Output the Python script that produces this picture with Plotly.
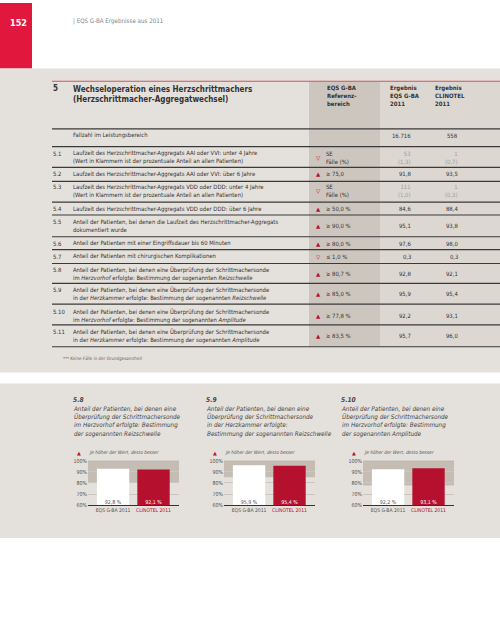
import plotly.graph_objects as go

W, H = 500, 636
FONT = "Liberation Sans Narrow, DejaVu Sans Condensed, Arial Narrow, sans-serif"
SYM = "DejaVu Sans"

# ---------------- data ----------------
page_number = "152"
header_text = "| EQS G-BA Ergebnisse aus 2011"
section_id = "5"
section_title = ["Wechseloperation eines Herzschrittmachers", "(Herzschrittmacher-Aggregatwechsel)"]
col_headers = [["EQS G-BA", "Referenz-", "bereich"],
               ["Ergebnis", "EQS G-BA", "2011"],
               ["Ergebnis", "CLINOTEL", "2011"]]
case_label = "Fallzahl im Leistungsbereich"
case_eqs = 16716
case_clinotel = 558

row_ids = ["5.1", "5.2", "5.3", "5.4", "5.5", "5.6", "5.7", "5.8", "5.9", "5.10", "5.11"]
row_texts = [
    "Laufzeit des Herzschrittmacher-Aggregats AAI oder VVI: unter 4 Jahre<br>(Wert in Klammern ist der prozentuale Anteil an allen Patienten)",
    "Laufzeit des Herzschrittmacher-Aggregats AAI oder VVI: über 6 Jahre",
    "Laufzeit des Herzschrittmacher-Aggregats VDD oder DDD: unter 4 Jahre<br>(Wert in Klammern ist der prozentuale Anteil an allen Patienten)",
    "Laufzeit des Herzschrittmacher-Aggregats VDD oder DDD: über 6 Jahre",
    "Anteil der Patienten, bei denen die Laufzeit des Herzschrittmacher-Aggregats<br>dokumentiert wurde",
    "Anteil der Patienten mit einer Eingriffsdauer bis 60 Minuten",
    "Anteil der Patienten mit chirurgischen Komplikationen",
    "Anteil der Patienten, bei denen eine Überprüfung der Schrittmachersonde<br>im <i>Herzvorhof</i> erfolgte: Bestimmung der sogenannten <i>Reizschwelle</i>",
    "Anteil der Patienten, bei denen eine Überprüfung der Schrittmachersonde<br>in der <i>Herzkammer</i> erfolgte: Bestimmung der sogenannten <i>Reizschwelle</i>",
    "Anteil der Patienten, bei denen eine Überprüfung der Schrittmachersonde<br>im <i>Herzvorhof</i> erfolgte: Bestimmung der sogenannten <i>Amplitude</i>",
    "Anteil der Patienten, bei denen eine Überprüfung der Schrittmachersonde<br>in der <i>Herzkammer</i> erfolgte: Bestimmung der sogenannten <i>Amplitude</i>",
]
ref_direction = ["down", "up", "down", "up", "up", "up", "down", "up", "up", "up", "up"]
ref_labels = ["SE<br>Fälle (%)", "≥ 75,0", "SE<br>Fälle (%)", "≥ 50,0 %", "≥ 90,0 %", "≥ 80,0 %",
              "≤ 1,0 %", "≥ 80,7 %", "≥ 85,0 %", "≥ 77,8 %", "≥ 83,5 %"]
eqs_values = [53, 91.8, 111, 84.6, 95.1, 97.6, 0.3, 92.8, 95.9, 92.2, 95.7]
clinotel_values = [1, 93.5, 1, 88.4, 93.8, 98.0, 0.3, 92.1, 95.4, 93.1, 96.0]
eqs_share = [1.3, None, 1.0, None, None, None, None, None, None, None, None]
clinotel_share = [0.7, None, 0.3, None, None, None, None, None, None, None, None]
footnote = "*** Keine Fälle in der Grundgesamtheit"

chart_ids = ["5.8", "5.9", "5.10"]
chart_titles = [
    "Anteil der Patienten, bei denen eine<br>Überprüfung der Schrittmachersonde<br>im Herzvorhof erfolgte: Bestimmung<br>der sogenannten Reizschwelle",
    "Anteil der Patienten, bei denen eine<br>Überprüfung der Schrittmachersonde<br>in der Herzkammer erfolgte:<br>Bestimmung der sogenannten Reizschwelle",
    "Anteil der Patienten, bei denen eine<br>Überprüfung der Schrittmachersonde<br>im Herzvorhof erfolgte: Bestimmung<br>der sogenannten Amplitude",
]
chart_categories = ["EQS G-BA 2011", "CLINOTEL 2011"]
chart_eqs = [92.8, 95.9, 92.2]
chart_clinotel = [92.1, 95.4, 93.1]
chart_ref = [80.7, 85.0, 77.8]
y_ticks = [60, 70, 80, 90, 100]
legend_text = "Je höher der Wert, desto besser"

# ---------------- styling / layout constants ----------------
RED = "#b5102e"
PAGE_RED = "#e2173d"
PANEL = "#e4e0db"
REFCOL = "#cdc6be"
RESCOL = "#dcd7d1"
DARK = "#333333"
GREYTXT = "#a19b95"

row_y = [156, 173, 190, 208, 225, 243, 256, 273.5, 293.5, 315.5, 336.5]
rule_y = [127, 145, 166, 180, 201, 214, 236, 249, 263, 283, 304, 325, 347]
chart_text_x = [72, 205, 340]
chart_plot_x = [88, 224, 363]
PLOT_W = 91
TS = 5.9  # table text size


def X(p):
    return p / W


def Y(p):
    return 1 - p / H


def de(v, d=1):
    return f"{v:.{d}f}".replace(".", ",")


shapes = []
annotations = []


def rect(x0, y0, x1, y1, color):
    shapes.append(dict(type="rect", xref="paper", yref="paper", x0=X(x0), x1=X(x1),
                       y0=Y(y1), y1=Y(y0), fillcolor=color, line=dict(width=0), layer="below"))


def hline(x0, x1, y, color, width=1):
    shapes.append(dict(type="line", xref="paper", yref="paper", x0=X(x0), x1=X(x1),
                       y0=Y(y), y1=Y(y), line=dict(color=color, width=width), layer="below"))


def txt(x, y, s, size=TS, color=DARK, anchor="left", family=FONT, yanchor="middle"):
    annotations.append(dict(x=X(x), y=Y(y), xref="paper", yref="paper", text=s, showarrow=False,
                            xanchor=anchor, yanchor=yanchor, align=anchor,
                            font=dict(size=size, color=color, family=family), borderpad=0))


# backgrounds
rect(0, 0, 32, 66, PAGE_RED)
rect(0, 66, 500, 373, PANEL)
rect(309, 79, 380, 347, REFCOL)
rect(380, 79, 500, 347, RESCOL)
rect(0, 384, 500, 540, PANEL)
hline(52, 500, 79, "#d9505c", 1)
for ry in rule_y:
    hline(52, 500, ry, "#3a3a3a", 1.2)

# header
txt(18, 20, f"<b>{page_number}</b>", size=9, color="white", anchor="center")
txt(72, 18.5, header_text, size=6.2, color="#858585")
txt(52, 86.5, f"<b>{section_id}</b>", size=8)
txt(72, 92, "<b>" + section_title[0] + "</b><br><b>" + section_title[1] + "</b>", size=8)
for cx, lines in zip([326, 389, 434], col_headers):
    txt(cx, 93.3, "<br>".join(f"<b>{l}</b>" for l in lines), size=6.0)

txt(72, 134, case_label)
txt(412, 134, f"{case_eqs:,}".replace(",", "."), anchor="right")
txt(459, 134, f"{case_clinotel}", anchor="right")

for i in range(len(row_ids)):
    y = row_y[i]
    first_line_y = y - 4 if "<br>" in row_texts[i] else y
    txt(52, first_line_y, row_ids[i])
    txt(72, y, row_texts[i])
    sym = "▲" if ref_direction[i] == "up" else "▽"
    txt(318, y, sym, size=5.5, color=RED, anchor="center", family=SYM)
    txt(325, y, ref_labels[i])
    if eqs_share[i] is not None:
        txt(412, y, f"{eqs_values[i]:.0f}<br>({de(eqs_share[i])})", color=GREYTXT, anchor="right")
        txt(459, y, f"{clinotel_values[i]:.0f}<br>({de(clinotel_share[i])})", color=GREYTXT, anchor="right")
    else:
        txt(412, y, de(eqs_values[i]), anchor="right")
        txt(459, y, de(clinotel_values[i]), anchor="right")

txt(62, 359, f"<i>{footnote}</i>", size=4.5, color="#666")

# ---------------- charts ----------------
fig = go.Figure()
layout_axes = {}
for k in range(3):
    s = "" if k == 0 else str(k + 1)
    xa, ya = "x" + s, "y" + s
    fig.add_trace(go.Bar(x=chart_categories, y=[chart_eqs[k], chart_clinotel[k]],
                         marker=dict(color=["#ffffff", RED], line=dict(width=0)),
                         width=0.8, xaxis=xa, yaxis=ya, showlegend=False, hoverinfo="skip"))
    fig.add_trace(go.Scatter(x=chart_categories, y=[y_ticks[0]] * 2, mode="text",
                             text=[f"{de(chart_eqs[k])} %", f"{de(chart_clinotel[k])} %"],
                             textposition="top center",
                             textfont=dict(size=5.3, family=FONT, color=["#555555", "#ffffff"]),
                             xaxis=xa, yaxis=ya, showlegend=False, cliponaxis=False, hoverinfo="skip"))
    shapes.append(dict(type="rect", xref=f"{xa} domain", yref=ya, x0=0, x1=1,
                       y0=chart_ref[k], y1=y_ticks[-1], fillcolor="#c5bdb4", line=dict(width=0), layer="below"))
    shapes.append(dict(type="line", xref=f"{xa} domain", yref=ya, x0=0, x1=1,
                       y0=y_ticks[-1], y1=y_ticks[-1], line=dict(color="#a59c93", width=1), layer="above"))
    left = chart_plot_x[k]
    layout_axes["xaxis" + s] = dict(
        domain=[X(left), X(left + PLOT_W)], anchor=ya, range=[-0.62, 1.63],
        showline=True, linecolor=DARK, linewidth=1, ticks="", showgrid=False, zeroline=False,
        tickmode="array", tickvals=chart_categories,
        ticktext=[f"<span style='color:#555555'>{chart_categories[0]}</span>",
                  f"<span style='color:{RED}'>{chart_categories[1]}</span>"],
        tickfont=dict(size=5.0, family=FONT), fixedrange=True)
    layout_axes["yaxis" + s] = dict(
        domain=[Y(507), Y(462)], anchor=xa, range=[y_ticks[0], y_ticks[-1]],
        tickmode="array", tickvals=y_ticks, ticktext=[f"{t}%" for t in y_ticks],
        tickfont=dict(size=5.3, family=FONT, color="#555555"),
        showgrid=True, gridcolor="#cdc6be", gridwidth=1, zeroline=False, showline=False,
        ticks="", fixedrange=True)

    tx = chart_text_x[k]
    txt(tx, 401, f"<b><i>{chart_ids[k]}</i></b>", size=6.6, color="#444")
    txt(tx, 405, f"<i>{chart_titles[k]}</i>", size=6.3, color="#444", yanchor="top")
    txt(chart_plot_x[k] - 9, 454, "▲", size=5, color=RED, anchor="center", family=SYM)
    txt(chart_plot_x[k], 454, f"<i>{legend_text}</i>", size=4.8, color="#555")

fig.update_layout(
    width=W, height=H, autosize=False,
    margin=dict(l=0, r=0, t=0, b=0),
    paper_bgcolor="white", plot_bgcolor="rgba(0,0,0,0)",
    separators=",.", bargap=0.2,
    font=dict(family=FONT, color=DARK),
    shapes=shapes, annotations=annotations,
    **layout_axes,
)

fig.write_html("out.html", config={"displayModeBar": False},
               post_script="document.body.style.margin='0';document.body.style.padding='0';")
